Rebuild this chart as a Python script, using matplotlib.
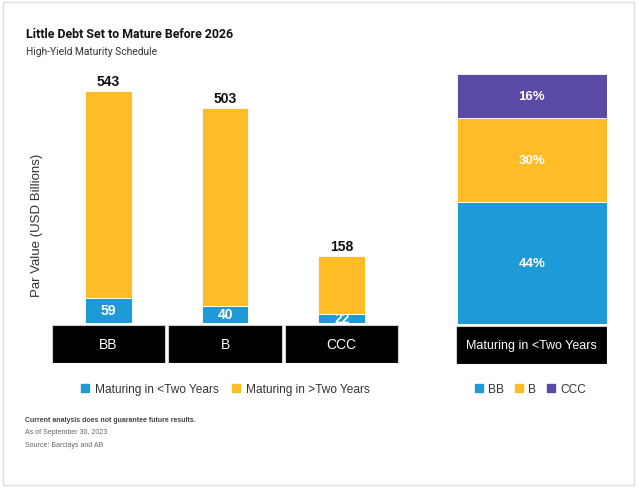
import matplotlib
matplotlib.use("Agg")
import matplotlib.pyplot as plt
from matplotlib.patches import Rectangle
from matplotlib.lines import Line2D

# data
ratings = ["BB", "B", "CCC"]
totals = [543, 503, 158]
short_term = [59, 40, 22]          # maturing in < two years
long_term = [t - s for t, s in zip(totals, short_term)]

share_labels = ["BB", "B", "CCC"]
share_pct = [44, 30, 16]           # share of debt maturing in < two years
share_cat = "Maturing in <Two Years"

blue = "#1E9AD6"
yellow = "#FEBD27"
purple = "#5A4AA5"
W, H = 640, 489


def box(x0, y0, x1, y1):
    # pixel box (top-left origin) -> figure fraction rect
    return [x0 / W, 1 - y1 / H, (x1 - x0) / W, (y1 - y0) / H]


plt.rcParams["font.family"] = ["Liberation Sans", "DejaVu Sans"]
fig = plt.figure(figsize=(6.4, 4.89), dpi=100)
fig.patches.append(Rectangle((3 / W, 3 / H), 631 / W, 483 / H, transform=fig.transFigure,
                             fill=False, edgecolor="#dddddd", linewidth=1))

fig.text(26 / W, 1 - 34 / H, "Little Debt Set to Mature Before 2026", fontsize=8.9,
         fontweight="bold", family="Roboto", color="#111111", va="center")
fig.text(26 / W, 1 - 52 / H, "High-Yield Maturity Schedule", fontsize=7.4,
         family="Roboto", color="#333333", va="center")

# left stacked bars
ax = fig.add_axes(box(50, 75, 400, 324))
x = range(len(ratings))
ax.bar(x, short_term, width=0.4, color=blue, edgecolor="white", linewidth=0.6, zorder=2)
ax.bar(x, long_term, bottom=short_term, width=0.4, color=yellow, edgecolor="white",
       linewidth=0.6, zorder=3)
for i in x:
    ax.annotate(str(totals[i]), (i, totals[i]), xytext=(0, 2), textcoords="offset points",
                ha="center", va="bottom", fontsize=10, fontweight="bold", color="#111111")
    ax.text(i, short_term[i] / 2, str(short_term[i]), ha="center", va="center",
            fontsize=10, fontweight="bold", color="white", zorder=2.5)
ax.set_xlim(-0.5, 2.5)
ax.set_ylim(0, 583)
ax.axis("off")

axl = fig.add_axes(box(50, 326, 400, 364))
axl.bar(x, [1] * 3, width=0.97, color="black", edgecolor="#cccccc", linewidth=0.8)
for i in x:
    axl.text(i, 0.5, ratings[i], ha="center", va="center", color="white", fontsize=10)
axl.set_xlim(-0.5, 2.5)
axl.set_ylim(0, 1)
axl.axis("off")

fig.text(37 / W, 1 - 225 / H, "Par Value (USD Billions)", rotation=90, ha="center",
         va="center", fontsize=9.5, color="#333333")

# right share bar
ax2 = fig.add_axes(box(456.5, 75, 607, 325))
bottom = 0
cols = [blue, yellow, purple]
for lab, v, c in zip(share_labels, share_pct, cols):
    ax2.bar(0, v, bottom=bottom, width=1, color=c, edgecolor="white", linewidth=0.6)
    ax2.text(0, bottom + v / 2, f"{v}%", ha="center", va="center", color="white",
             fontsize=9.5, fontweight="bold")
    bottom += v
ax2.set_xlim(-0.5, 0.5)
ax2.set_ylim(0, sum(share_pct))
ax2.axis("off")

ax2l = fig.add_axes(box(456, 327, 607, 365))
ax2l.bar(0, 1, width=1, color="black", edgecolor="#cccccc", linewidth=0.8)
ax2l.text(0, 0.5, share_cat, ha="center", va="center", color="white", fontsize=9)
ax2l.set_xlim(-0.5, 0.5)
ax2l.set_ylim(0, 1)
ax2l.axis("off")


def sq(c):
    return Line2D([], [], marker="s", linestyle="none", markersize=6, color=c)


fig.legend([sq(blue), sq(yellow)], ["Maturing in <Two Years", "Maturing in >Two Years"],
           loc="center", bbox_to_anchor=(225 / W, 1 - 390 / H), ncol=2, frameon=False,
           fontsize=8.6, handlelength=0.8, handletextpad=0.4, columnspacing=1.1,
           labelcolor="#333333")
fig.legend([sq(c) for c in cols], share_labels, loc="center",
           bbox_to_anchor=(530 / W, 1 - 390 / H), ncol=3, frameon=False, fontsize=8.6,
           handlelength=0.8, handletextpad=0.4, columnspacing=0.8, labelcolor="#333333")

fig.text(25 / W, 1 - 420 / H, "Current analysis does not guarantee future results.",
         fontsize=5.0, fontweight="bold", color="#444444", va="center")
fig.text(25 / W, 1 - 433 / H, "As of September 30, 2023", fontsize=5.0, color="#666666",
         va="center")
fig.text(25 / W, 1 - 446 / H, "Source: Barclays and AB", fontsize=5.0, color="#666666",
         va="center")

fig.savefig("out.png", dpi=100, facecolor="white")
